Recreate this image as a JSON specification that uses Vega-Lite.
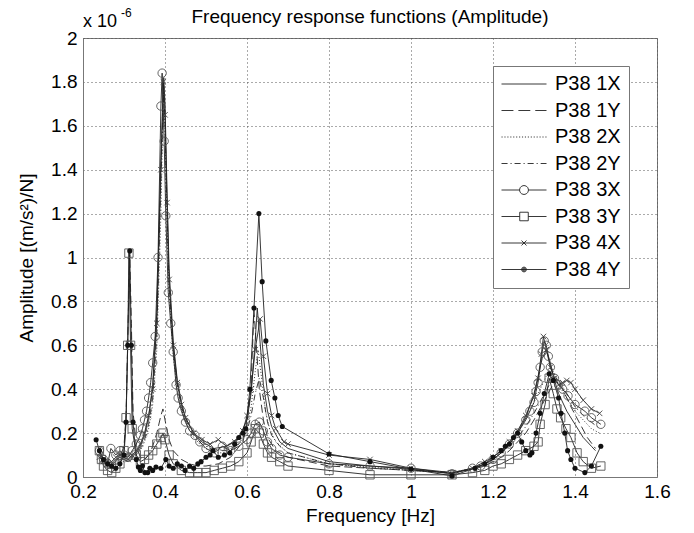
{
  "$schema": "https://vega.github.io/schema/vega-lite/v6.json",
  "width": 574,
  "height": 439,
  "autosize": {"type": "none"},
  "padding": {"left": 83, "top": 38, "right": 37, "bottom": 56},
  "background": "white",
  "title": {"text": "Frequency response functions (Amplitude)", "fontSize": 19, "fontWeight": "normal", "font": "Liberation Sans", "color": "#000", "offset": -20, "anchor": "middle"},
  "config": {
    "view": {"stroke": "#777", "strokeWidth": 1},
    "font": "Liberation Sans",
    "axis": {"labelFont": "Liberation Sans", "titleFont": "Liberation Sans", "labelFontSize": 19, "titleFontSize": 19, "titleFontWeight": "normal", "labelColor": "#000", "titleColor": "#000", "grid": true, "gridDash": [1, 3], "gridColor": "#555", "gridOpacity": 1, "ticks": false, "domainColor": "#777", "labelFlush": false}
  },
  "data": {"values": [
    {"s":"P38 1X","f":0.24,"a":0.10},{"s":"P38 1X","f":0.25,"a":0.07},{"s":"P38 1X","f":0.26,"a":0.05},{"s":"P38 1X","f":0.27,"a":0.06},{"s":"P38 1X","f":0.28,"a":0.08},{"s":"P38 1X","f":0.29,"a":0.09},{"s":"P38 1X","f":0.30,"a":0.08},{"s":"P38 1X","f":0.31,"a":0.07},{"s":"P38 1X","f":0.32,"a":0.09},{"s":"P38 1X","f":0.33,"a":0.11},{"s":"P38 1X","f":0.34,"a":0.14},{"s":"P38 1X","f":0.35,"a":0.19},{"s":"P38 1X","f":0.36,"a":0.27},{"s":"P38 1X","f":0.37,"a":0.42},{"s":"P38 1X","f":0.38,"a":0.75},{"s":"P38 1X","f":0.39,"a":1.45},{"s":"P38 1X","f":0.397,"a":1.82},{"s":"P38 1X","f":0.40,"a":1.70},{"s":"P38 1X","f":0.405,"a":1.30},{"s":"P38 1X","f":0.41,"a":0.95},{"s":"P38 1X","f":0.42,"a":0.62},{"s":"P38 1X","f":0.43,"a":0.44},{"s":"P38 1X","f":0.44,"a":0.34},{"s":"P38 1X","f":0.45,"a":0.27},{"s":"P38 1X","f":0.47,"a":0.20},{"s":"P38 1X","f":0.49,"a":0.16},{"s":"P38 1X","f":0.52,"a":0.13},{"s":"P38 1X","f":0.55,"a":0.14},{"s":"P38 1X","f":0.58,"a":0.18},{"s":"P38 1X","f":0.60,"a":0.26},{"s":"P38 1X","f":0.61,"a":0.38},{"s":"P38 1X","f":0.62,"a":0.62},{"s":"P38 1X","f":0.625,"a":0.77},{"s":"P38 1X","f":0.63,"a":0.66},{"s":"P38 1X","f":0.64,"a":0.42},{"s":"P38 1X","f":0.65,"a":0.30},{"s":"P38 1X","f":0.66,"a":0.23},{"s":"P38 1X","f":0.68,"a":0.16},{"s":"P38 1X","f":0.70,"a":0.13},{"s":"P38 1X","f":0.80,"a":0.07},{"s":"P38 1X","f":0.90,"a":0.05},{"s":"P38 1X","f":1.0,"a":0.035},{"s":"P38 1X","f":1.1,"a":0.015},{"s":"P38 1X","f":1.15,"a":0.04},{"s":"P38 1X","f":1.18,"a":0.06},{"s":"P38 1X","f":1.20,"a":0.08},{"s":"P38 1X","f":1.22,"a":0.11},{"s":"P38 1X","f":1.24,"a":0.15},{"s":"P38 1X","f":1.26,"a":0.20},{"s":"P38 1X","f":1.28,"a":0.27},{"s":"P38 1X","f":1.30,"a":0.38},{"s":"P38 1X","f":1.31,"a":0.46},{"s":"P38 1X","f":1.32,"a":0.54},{"s":"P38 1X","f":1.33,"a":0.58},{"s":"P38 1X","f":1.34,"a":0.52},{"s":"P38 1X","f":1.35,"a":0.44},{"s":"P38 1X","f":1.36,"a":0.38},{"s":"P38 1X","f":1.38,"a":0.30},{"s":"P38 1X","f":1.40,"a":0.24},{"s":"P38 1X","f":1.42,"a":0.18},{"s":"P38 1X","f":1.44,"a":0.14},{"s":"P38 1X","f":1.45,"a":0.12},

    {"s":"P38 1Y","f":0.24,"a":0.14},{"s":"P38 1Y","f":0.25,"a":0.10},{"s":"P38 1Y","f":0.26,"a":0.07},{"s":"P38 1Y","f":0.27,"a":0.06},{"s":"P38 1Y","f":0.28,"a":0.07},{"s":"P38 1Y","f":0.29,"a":0.09},{"s":"P38 1Y","f":0.30,"a":0.14},{"s":"P38 1Y","f":0.305,"a":0.28},{"s":"P38 1Y","f":0.31,"a":0.70},{"s":"P38 1Y","f":0.314,"a":1.01},{"s":"P38 1Y","f":0.318,"a":0.70},{"s":"P38 1Y","f":0.322,"a":0.30},{"s":"P38 1Y","f":0.33,"a":0.14},{"s":"P38 1Y","f":0.34,"a":0.09},{"s":"P38 1Y","f":0.35,"a":0.08},{"s":"P38 1Y","f":0.36,"a":0.10},{"s":"P38 1Y","f":0.37,"a":0.14},{"s":"P38 1Y","f":0.38,"a":0.20},{"s":"P38 1Y","f":0.39,"a":0.28},{"s":"P38 1Y","f":0.395,"a":0.31},{"s":"P38 1Y","f":0.40,"a":0.26},{"s":"P38 1Y","f":0.41,"a":0.17},{"s":"P38 1Y","f":0.42,"a":0.12},{"s":"P38 1Y","f":0.44,"a":0.08},{"s":"P38 1Y","f":0.46,"a":0.06},{"s":"P38 1Y","f":0.48,"a":0.05},{"s":"P38 1Y","f":0.50,"a":0.05},{"s":"P38 1Y","f":0.53,"a":0.06},{"s":"P38 1Y","f":0.56,"a":0.09},{"s":"P38 1Y","f":0.59,"a":0.16},{"s":"P38 1Y","f":0.60,"a":0.24},{"s":"P38 1Y","f":0.61,"a":0.42},{"s":"P38 1Y","f":0.617,"a":0.76},{"s":"P38 1Y","f":0.622,"a":0.62},{"s":"P38 1Y","f":0.63,"a":0.40},{"s":"P38 1Y","f":0.64,"a":0.26},{"s":"P38 1Y","f":0.65,"a":0.18},{"s":"P38 1Y","f":0.67,"a":0.12},{"s":"P38 1Y","f":0.70,"a":0.09},{"s":"P38 1Y","f":0.80,"a":0.05},{"s":"P38 1Y","f":0.90,"a":0.04},{"s":"P38 1Y","f":1.0,"a":0.03},{"s":"P38 1Y","f":1.1,"a":0.02},{"s":"P38 1Y","f":1.15,"a":0.035},{"s":"P38 1Y","f":1.18,"a":0.05},{"s":"P38 1Y","f":1.20,"a":0.07},{"s":"P38 1Y","f":1.22,"a":0.09},{"s":"P38 1Y","f":1.24,"a":0.12},{"s":"P38 1Y","f":1.26,"a":0.16},{"s":"P38 1Y","f":1.28,"a":0.20},{"s":"P38 1Y","f":1.30,"a":0.26},{"s":"P38 1Y","f":1.32,"a":0.33},{"s":"P38 1Y","f":1.34,"a":0.40},{"s":"P38 1Y","f":1.355,"a":0.45},{"s":"P38 1Y","f":1.37,"a":0.40},{"s":"P38 1Y","f":1.39,"a":0.32},{"s":"P38 1Y","f":1.41,"a":0.25},{"s":"P38 1Y","f":1.43,"a":0.18},{"s":"P38 1Y","f":1.45,"a":0.13},

    {"s":"P38 2X","f":0.24,"a":0.08},{"s":"P38 2X","f":0.25,"a":0.06},{"s":"P38 2X","f":0.26,"a":0.05},{"s":"P38 2X","f":0.27,"a":0.05},{"s":"P38 2X","f":0.28,"a":0.06},{"s":"P38 2X","f":0.29,"a":0.07},{"s":"P38 2X","f":0.30,"a":0.07},{"s":"P38 2X","f":0.31,"a":0.08},{"s":"P38 2X","f":0.32,"a":0.08},{"s":"P38 2X","f":0.33,"a":0.10},{"s":"P38 2X","f":0.34,"a":0.12},{"s":"P38 2X","f":0.35,"a":0.16},{"s":"P38 2X","f":0.36,"a":0.22},{"s":"P38 2X","f":0.37,"a":0.33},{"s":"P38 2X","f":0.38,"a":0.58},{"s":"P38 2X","f":0.39,"a":1.20},{"s":"P38 2X","f":0.396,"a":1.75},{"s":"P38 2X","f":0.40,"a":1.60},{"s":"P38 2X","f":0.405,"a":1.15},{"s":"P38 2X","f":0.41,"a":0.85},{"s":"P38 2X","f":0.42,"a":0.55},{"s":"P38 2X","f":0.43,"a":0.40},{"s":"P38 2X","f":0.44,"a":0.31},{"s":"P38 2X","f":0.45,"a":0.25},{"s":"P38 2X","f":0.47,"a":0.18},{"s":"P38 2X","f":0.49,"a":0.14},{"s":"P38 2X","f":0.52,"a":0.11},{"s":"P38 2X","f":0.55,"a":0.11},{"s":"P38 2X","f":0.58,"a":0.15},{"s":"P38 2X","f":0.60,"a":0.22},{"s":"P38 2X","f":0.61,"a":0.32},{"s":"P38 2X","f":0.62,"a":0.48},{"s":"P38 2X","f":0.627,"a":0.58},{"s":"P38 2X","f":0.635,"a":0.46},{"s":"P38 2X","f":0.645,"a":0.30},{"s":"P38 2X","f":0.655,"a":0.22},{"s":"P38 2X","f":0.67,"a":0.16},{"s":"P38 2X","f":0.70,"a":0.11},{"s":"P38 2X","f":0.80,"a":0.06},{"s":"P38 2X","f":0.90,"a":0.045},{"s":"P38 2X","f":1.0,"a":0.03},{"s":"P38 2X","f":1.1,"a":0.02},{"s":"P38 2X","f":1.15,"a":0.04},{"s":"P38 2X","f":1.18,"a":0.07},{"s":"P38 2X","f":1.20,"a":0.09},{"s":"P38 2X","f":1.22,"a":0.12},{"s":"P38 2X","f":1.24,"a":0.16},{"s":"P38 2X","f":1.26,"a":0.21},{"s":"P38 2X","f":1.28,"a":0.27},{"s":"P38 2X","f":1.30,"a":0.34},{"s":"P38 2X","f":1.32,"a":0.42},{"s":"P38 2X","f":1.34,"a":0.50},{"s":"P38 2X","f":1.35,"a":0.47},{"s":"P38 2X","f":1.36,"a":0.42},{"s":"P38 2X","f":1.38,"a":0.36},{"s":"P38 2X","f":1.40,"a":0.30},{"s":"P38 2X","f":1.42,"a":0.26},{"s":"P38 2X","f":1.44,"a":0.22},{"s":"P38 2X","f":1.46,"a":0.20},

    {"s":"P38 2Y","f":0.24,"a":0.11},{"s":"P38 2Y","f":0.25,"a":0.08},{"s":"P38 2Y","f":0.26,"a":0.06},{"s":"P38 2Y","f":0.27,"a":0.05},{"s":"P38 2Y","f":0.28,"a":0.06},{"s":"P38 2Y","f":0.29,"a":0.08},{"s":"P38 2Y","f":0.30,"a":0.09},{"s":"P38 2Y","f":0.31,"a":0.10},{"s":"P38 2Y","f":0.32,"a":0.09},{"s":"P38 2Y","f":0.33,"a":0.10},{"s":"P38 2Y","f":0.34,"a":0.13},{"s":"P38 2Y","f":0.35,"a":0.17},{"s":"P38 2Y","f":0.36,"a":0.24},{"s":"P38 2Y","f":0.37,"a":0.36},{"s":"P38 2Y","f":0.38,"a":0.65},{"s":"P38 2Y","f":0.39,"a":1.35},{"s":"P38 2Y","f":0.397,"a":1.78},{"s":"P38 2Y","f":0.40,"a":1.62},{"s":"P38 2Y","f":0.405,"a":1.20},{"s":"P38 2Y","f":0.41,"a":0.88},{"s":"P38 2Y","f":0.42,"a":0.58},{"s":"P38 2Y","f":0.43,"a":0.42},{"s":"P38 2Y","f":0.44,"a":0.32},{"s":"P38 2Y","f":0.45,"a":0.26},{"s":"P38 2Y","f":0.47,"a":0.19},{"s":"P38 2Y","f":0.49,"a":0.15},{"s":"P38 2Y","f":0.52,"a":0.12},{"s":"P38 2Y","f":0.55,"a":0.12},{"s":"P38 2Y","f":0.58,"a":0.15},{"s":"P38 2Y","f":0.60,"a":0.21},{"s":"P38 2Y","f":0.61,"a":0.28},{"s":"P38 2Y","f":0.62,"a":0.38},{"s":"P38 2Y","f":0.63,"a":0.45},{"s":"P38 2Y","f":0.64,"a":0.36},{"s":"P38 2Y","f":0.65,"a":0.25},{"s":"P38 2Y","f":0.66,"a":0.19},{"s":"P38 2Y","f":0.68,"a":0.14},{"s":"P38 2Y","f":0.70,"a":0.11},{"s":"P38 2Y","f":0.80,"a":0.06},{"s":"P38 2Y","f":0.90,"a":0.04},{"s":"P38 2Y","f":1.0,"a":0.03},{"s":"P38 2Y","f":1.1,"a":0.02},{"s":"P38 2Y","f":1.15,"a":0.035},{"s":"P38 2Y","f":1.18,"a":0.06},{"s":"P38 2Y","f":1.20,"a":0.08},{"s":"P38 2Y","f":1.22,"a":0.11},{"s":"P38 2Y","f":1.24,"a":0.14},{"s":"P38 2Y","f":1.26,"a":0.18},{"s":"P38 2Y","f":1.28,"a":0.23},{"s":"P38 2Y","f":1.30,"a":0.29},{"s":"P38 2Y","f":1.32,"a":0.36},{"s":"P38 2Y","f":1.34,"a":0.43},{"s":"P38 2Y","f":1.35,"a":0.47},{"s":"P38 2Y","f":1.36,"a":0.44},{"s":"P38 2Y","f":1.38,"a":0.38},{"s":"P38 2Y","f":1.40,"a":0.32},{"s":"P38 2Y","f":1.42,"a":0.28},{"s":"P38 2Y","f":1.44,"a":0.25},{"s":"P38 2Y","f":1.46,"a":0.22},

    {"s":"P38 3X","f":0.24,"a":0.12},{"s":"P38 3X","f":0.25,"a":0.08},{"s":"P38 3X","f":0.26,"a":0.06},{"s":"P38 3X","f":0.268,"a":0.13},{"s":"P38 3X","f":0.28,"a":0.10},{"s":"P38 3X","f":0.29,"a":0.12},{"s":"P38 3X","f":0.30,"a":0.10},{"s":"P38 3X","f":0.31,"a":0.09},{"s":"P38 3X","f":0.32,"a":0.12},{"s":"P38 3X","f":0.33,"a":0.15},{"s":"P38 3X","f":0.34,"a":0.19},{"s":"P38 3X","f":0.345,"a":0.22},{"s":"P38 3X","f":0.35,"a":0.26},{"s":"P38 3X","f":0.355,"a":0.30},{"s":"P38 3X","f":0.36,"a":0.36},{"s":"P38 3X","f":0.365,"a":0.43},{"s":"P38 3X","f":0.37,"a":0.52},{"s":"P38 3X","f":0.376,"a":0.64},{"s":"P38 3X","f":0.383,"a":1.00},{"s":"P38 3X","f":0.39,"a":1.69},{"s":"P38 3X","f":0.393,"a":1.84},{"s":"P38 3X","f":0.398,"a":1.53},{"s":"P38 3X","f":0.402,"a":1.19},{"s":"P38 3X","f":0.408,"a":0.84},{"s":"P38 3X","f":0.414,"a":0.70},{"s":"P38 3X","f":0.42,"a":0.57},{"s":"P38 3X","f":0.427,"a":0.42},{"s":"P38 3X","f":0.432,"a":0.36},{"s":"P38 3X","f":0.44,"a":0.30},{"s":"P38 3X","f":0.45,"a":0.25},{"s":"P38 3X","f":0.46,"a":0.21},{"s":"P38 3X","f":0.473,"a":0.19},{"s":"P38 3X","f":0.485,"a":0.16},{"s":"P38 3X","f":0.50,"a":0.13},{"s":"P38 3X","f":0.52,"a":0.11},{"s":"P38 3X","f":0.54,"a":0.14},{"s":"P38 3X","f":0.56,"a":0.12},{"s":"P38 3X","f":0.58,"a":0.14},{"s":"P38 3X","f":0.60,"a":0.17},{"s":"P38 3X","f":0.61,"a":0.20},{"s":"P38 3X","f":0.62,"a":0.24},{"s":"P38 3X","f":0.63,"a":0.25},{"s":"P38 3X","f":0.64,"a":0.21},{"s":"P38 3X","f":0.65,"a":0.16},{"s":"P38 3X","f":0.66,"a":0.13},{"s":"P38 3X","f":0.68,"a":0.10},{"s":"P38 3X","f":0.70,"a":0.09},{"s":"P38 3X","f":0.80,"a":0.06},{"s":"P38 3X","f":0.90,"a":0.05},{"s":"P38 3X","f":1.0,"a":0.04},{"s":"P38 3X","f":1.1,"a":0.015},{"s":"P38 3X","f":1.15,"a":0.04},{"s":"P38 3X","f":1.17,"a":0.05},{"s":"P38 3X","f":1.20,"a":0.08},{"s":"P38 3X","f":1.22,"a":0.11},{"s":"P38 3X","f":1.24,"a":0.15},{"s":"P38 3X","f":1.26,"a":0.20},{"s":"P38 3X","f":1.28,"a":0.26},{"s":"P38 3X","f":1.29,"a":0.30},{"s":"P38 3X","f":1.30,"a":0.34},{"s":"P38 3X","f":1.305,"a":0.39},{"s":"P38 3X","f":1.31,"a":0.43},{"s":"P38 3X","f":1.315,"a":0.50},{"s":"P38 3X","f":1.32,"a":0.57},{"s":"P38 3X","f":1.325,"a":0.62},{"s":"P38 3X","f":1.33,"a":0.60},{"s":"P38 3X","f":1.335,"a":0.55},{"s":"P38 3X","f":1.34,"a":0.50},{"s":"P38 3X","f":1.35,"a":0.45},{"s":"P38 3X","f":1.36,"a":0.42},{"s":"P38 3X","f":1.37,"a":0.40},{"s":"P38 3X","f":1.383,"a":0.37},{"s":"P38 3X","f":1.40,"a":0.33},{"s":"P38 3X","f":1.424,"a":0.30},{"s":"P38 3X","f":1.44,"a":0.27},{"s":"P38 3X","f":1.463,"a":0.24},

    {"s":"P38 3Y","f":0.24,"a":0.12},{"s":"P38 3Y","f":0.245,"a":0.08},{"s":"P38 3Y","f":0.25,"a":0.05},{"s":"P38 3Y","f":0.26,"a":0.03},{"s":"P38 3Y","f":0.27,"a":0.02},{"s":"P38 3Y","f":0.28,"a":0.04},{"s":"P38 3Y","f":0.29,"a":0.06},{"s":"P38 3Y","f":0.30,"a":0.12},{"s":"P38 3Y","f":0.305,"a":0.27},{"s":"P38 3Y","f":0.309,"a":0.60},{"s":"P38 3Y","f":0.312,"a":1.02},{"s":"P38 3Y","f":0.316,"a":0.60},{"s":"P38 3Y","f":0.32,"a":0.22},{"s":"P38 3Y","f":0.33,"a":0.10},{"s":"P38 3Y","f":0.34,"a":0.07},{"s":"P38 3Y","f":0.35,"a":0.08},{"s":"P38 3Y","f":0.36,"a":0.10},{"s":"P38 3Y","f":0.37,"a":0.12},{"s":"P38 3Y","f":0.38,"a":0.15},{"s":"P38 3Y","f":0.39,"a":0.18},{"s":"P38 3Y","f":0.395,"a":0.20},{"s":"P38 3Y","f":0.40,"a":0.17},{"s":"P38 3Y","f":0.41,"a":0.10},{"s":"P38 3Y","f":0.42,"a":0.06},{"s":"P38 3Y","f":0.44,"a":0.03},{"s":"P38 3Y","f":0.46,"a":0.02},{"s":"P38 3Y","f":0.48,"a":0.02},{"s":"P38 3Y","f":0.50,"a":0.02},{"s":"P38 3Y","f":0.52,"a":0.03},{"s":"P38 3Y","f":0.54,"a":0.04},{"s":"P38 3Y","f":0.56,"a":0.05},{"s":"P38 3Y","f":0.58,"a":0.07},{"s":"P38 3Y","f":0.60,"a":0.11},{"s":"P38 3Y","f":0.61,"a":0.16},{"s":"P38 3Y","f":0.62,"a":0.22},{"s":"P38 3Y","f":0.63,"a":0.20},{"s":"P38 3Y","f":0.64,"a":0.15},{"s":"P38 3Y","f":0.65,"a":0.11},{"s":"P38 3Y","f":0.66,"a":0.09},{"s":"P38 3Y","f":0.68,"a":0.07},{"s":"P38 3Y","f":0.70,"a":0.05},{"s":"P38 3Y","f":0.80,"a":0.03},{"s":"P38 3Y","f":0.90,"a":0.01},{"s":"P38 3Y","f":1.0,"a":0.01},{"s":"P38 3Y","f":1.1,"a":0.01},{"s":"P38 3Y","f":1.15,"a":0.02},{"s":"P38 3Y","f":1.18,"a":0.03},{"s":"P38 3Y","f":1.20,"a":0.05},{"s":"P38 3Y","f":1.22,"a":0.06},{"s":"P38 3Y","f":1.24,"a":0.08},{"s":"P38 3Y","f":1.26,"a":0.10},{"s":"P38 3Y","f":1.28,"a":0.12},{"s":"P38 3Y","f":1.30,"a":0.14},{"s":"P38 3Y","f":1.31,"a":0.16},{"s":"P38 3Y","f":1.315,"a":0.24},{"s":"P38 3Y","f":1.327,"a":0.33},{"s":"P38 3Y","f":1.337,"a":0.45},{"s":"P38 3Y","f":1.347,"a":0.38},{"s":"P38 3Y","f":1.356,"a":0.31},{"s":"P38 3Y","f":1.365,"a":0.27},{"s":"P38 3Y","f":1.378,"a":0.22},{"s":"P38 3Y","f":1.39,"a":0.18},{"s":"P38 3Y","f":1.405,"a":0.11},{"s":"P38 3Y","f":1.42,"a":0.07},{"s":"P38 3Y","f":1.44,"a":0.04},{"s":"P38 3Y","f":1.463,"a":0.05},

    {"s":"P38 4X","f":0.24,"a":0.09},{"s":"P38 4X","f":0.25,"a":0.07},{"s":"P38 4X","f":0.26,"a":0.06},{"s":"P38 4X","f":0.27,"a":0.07},{"s":"P38 4X","f":0.28,"a":0.09},{"s":"P38 4X","f":0.29,"a":0.10},{"s":"P38 4X","f":0.30,"a":0.09},{"s":"P38 4X","f":0.31,"a":0.08},{"s":"P38 4X","f":0.32,"a":0.10},{"s":"P38 4X","f":0.33,"a":0.12},{"s":"P38 4X","f":0.34,"a":0.15},{"s":"P38 4X","f":0.35,"a":0.20},{"s":"P38 4X","f":0.36,"a":0.28},{"s":"P38 4X","f":0.37,"a":0.40},{"s":"P38 4X","f":0.38,"a":0.70},{"s":"P38 4X","f":0.39,"a":1.40},{"s":"P38 4X","f":0.396,"a":1.80},{"s":"P38 4X","f":0.40,"a":1.65},{"s":"P38 4X","f":0.405,"a":1.25},{"s":"P38 4X","f":0.41,"a":0.90},{"s":"P38 4X","f":0.42,"a":0.60},{"s":"P38 4X","f":0.43,"a":0.43},{"s":"P38 4X","f":0.44,"a":0.33},{"s":"P38 4X","f":0.45,"a":0.27},{"s":"P38 4X","f":0.47,"a":0.20},{"s":"P38 4X","f":0.49,"a":0.17},{"s":"P38 4X","f":0.51,"a":0.15},{"s":"P38 4X","f":0.53,"a":0.17},{"s":"P38 4X","f":0.55,"a":0.14},{"s":"P38 4X","f":0.57,"a":0.16},{"s":"P38 4X","f":0.59,"a":0.21},{"s":"P38 4X","f":0.60,"a":0.28},{"s":"P38 4X","f":0.61,"a":0.40},{"s":"P38 4X","f":0.62,"a":0.58},{"s":"P38 4X","f":0.632,"a":0.72},{"s":"P38 4X","f":0.64,"a":0.55},{"s":"P38 4X","f":0.65,"a":0.38},{"s":"P38 4X","f":0.66,"a":0.28},{"s":"P38 4X","f":0.67,"a":0.22},{"s":"P38 4X","f":0.69,"a":0.16},{"s":"P38 4X","f":0.70,"a":0.15},{"s":"P38 4X","f":0.80,"a":0.10},{"s":"P38 4X","f":0.90,"a":0.08},{"s":"P38 4X","f":1.0,"a":0.04},{"s":"P38 4X","f":1.1,"a":0.02},{"s":"P38 4X","f":1.15,"a":0.04},{"s":"P38 4X","f":1.18,"a":0.07},{"s":"P38 4X","f":1.20,"a":0.09},{"s":"P38 4X","f":1.22,"a":0.12},{"s":"P38 4X","f":1.24,"a":0.16},{"s":"P38 4X","f":1.26,"a":0.21},{"s":"P38 4X","f":1.28,"a":0.28},{"s":"P38 4X","f":1.30,"a":0.37},{"s":"P38 4X","f":1.31,"a":0.45},{"s":"P38 4X","f":1.318,"a":0.56},{"s":"P38 4X","f":1.323,"a":0.64},{"s":"P38 4X","f":1.33,"a":0.58},{"s":"P38 4X","f":1.34,"a":0.50},{"s":"P38 4X","f":1.35,"a":0.45},{"s":"P38 4X","f":1.36,"a":0.42},{"s":"P38 4X","f":1.37,"a":0.43},{"s":"P38 4X","f":1.38,"a":0.44},{"s":"P38 4X","f":1.39,"a":0.43},{"s":"P38 4X","f":1.40,"a":0.40},{"s":"P38 4X","f":1.42,"a":0.35},{"s":"P38 4X","f":1.44,"a":0.31},{"s":"P38 4X","f":1.46,"a":0.29},

    {"s":"P38 4Y","f":0.232,"a":0.17},{"s":"P38 4Y","f":0.24,"a":0.12},{"s":"P38 4Y","f":0.25,"a":0.08},{"s":"P38 4Y","f":0.26,"a":0.06},{"s":"P38 4Y","f":0.27,"a":0.05},{"s":"P38 4Y","f":0.28,"a":0.04},{"s":"P38 4Y","f":0.29,"a":0.06},{"s":"P38 4Y","f":0.30,"a":0.10},{"s":"P38 4Y","f":0.305,"a":0.25},{"s":"P38 4Y","f":0.309,"a":0.60},{"s":"P38 4Y","f":0.314,"a":1.03},{"s":"P38 4Y","f":0.318,"a":0.60},{"s":"P38 4Y","f":0.322,"a":0.25},{"s":"P38 4Y","f":0.33,"a":0.08},{"s":"P38 4Y","f":0.335,"a":0.045},{"s":"P38 4Y","f":0.34,"a":0.03},{"s":"P38 4Y","f":0.345,"a":0.05},{"s":"P38 4Y","f":0.351,"a":0.02},{"s":"P38 4Y","f":0.358,"a":0.02},{"s":"P38 4Y","f":0.363,"a":0.04},{"s":"P38 4Y","f":0.37,"a":0.03},{"s":"P38 4Y","f":0.378,"a":0.045},{"s":"P38 4Y","f":0.39,"a":0.04},{"s":"P38 4Y","f":0.402,"a":0.08},{"s":"P38 4Y","f":0.41,"a":0.05},{"s":"P38 4Y","f":0.42,"a":0.04},{"s":"P38 4Y","f":0.43,"a":0.06},{"s":"P38 4Y","f":0.44,"a":0.05},{"s":"P38 4Y","f":0.449,"a":0.03},{"s":"P38 4Y","f":0.46,"a":0.05},{"s":"P38 4Y","f":0.47,"a":0.04},{"s":"P38 4Y","f":0.48,"a":0.06},{"s":"P38 4Y","f":0.488,"a":0.07},{"s":"P38 4Y","f":0.50,"a":0.09},{"s":"P38 4Y","f":0.51,"a":0.10},{"s":"P38 4Y","f":0.517,"a":0.12},{"s":"P38 4Y","f":0.53,"a":0.09},{"s":"P38 4Y","f":0.545,"a":0.10},{"s":"P38 4Y","f":0.558,"a":0.11},{"s":"P38 4Y","f":0.57,"a":0.15},{"s":"P38 4Y","f":0.58,"a":0.18},{"s":"P38 4Y","f":0.59,"a":0.20},{"s":"P38 4Y","f":0.597,"a":0.22},{"s":"P38 4Y","f":0.607,"a":0.40},{"s":"P38 4Y","f":0.617,"a":0.77},{"s":"P38 4Y","f":0.629,"a":1.20},{"s":"P38 4Y","f":0.637,"a":0.89},{"s":"P38 4Y","f":0.646,"a":0.62},{"s":"P38 4Y","f":0.659,"a":0.44},{"s":"P38 4Y","f":0.668,"a":0.36},{"s":"P38 4Y","f":0.676,"a":0.28},{"s":"P38 4Y","f":0.686,"a":0.23},{"s":"P38 4Y","f":0.80,"a":0.105},{"s":"P38 4Y","f":0.90,"a":0.07},{"s":"P38 4Y","f":1.0,"a":0.036},{"s":"P38 4Y","f":1.10,"a":0.005},{"s":"P38 4Y","f":1.156,"a":0.04},{"s":"P38 4Y","f":1.18,"a":0.06},{"s":"P38 4Y","f":1.20,"a":0.09},{"s":"P38 4Y","f":1.22,"a":0.12},{"s":"P38 4Y","f":1.23,"a":0.14},{"s":"P38 4Y","f":1.24,"a":0.15},{"s":"P38 4Y","f":1.25,"a":0.18},{"s":"P38 4Y","f":1.26,"a":0.20},{"s":"P38 4Y","f":1.27,"a":0.16},{"s":"P38 4Y","f":1.28,"a":0.12},{"s":"P38 4Y","f":1.29,"a":0.10},{"s":"P38 4Y","f":1.295,"a":0.11},{"s":"P38 4Y","f":1.305,"a":0.20},{"s":"P38 4Y","f":1.315,"a":0.29},{"s":"P38 4Y","f":1.325,"a":0.38},{"s":"P38 4Y","f":1.337,"a":0.47},{"s":"P38 4Y","f":1.347,"a":0.44},{"s":"P38 4Y","f":1.36,"a":0.36},{"s":"P38 4Y","f":1.366,"a":0.29},{"s":"P38 4Y","f":1.375,"a":0.20},{"s":"P38 4Y","f":1.382,"a":0.12},{"s":"P38 4Y","f":1.39,"a":0.08},{"s":"P38 4Y","f":1.40,"a":0.04},{"s":"P38 4Y","f":1.424,"a":0.02},{"s":"P38 4Y","f":1.44,"a":0.05},{"s":"P38 4Y","f":1.463,"a":0.14}
  ]},
  "encoding": {
    "x": {"field": "f", "type": "quantitative", "scale": {"domain": [0.2, 1.6], "nice": false, "zero": false}, "axis": {"values": [0.2, 0.4, 0.6, 0.8, 1, 1.2, 1.4, 1.6], "format": "~g", "title": "Frequency [Hz]", "labelPadding": 5, "titlePadding": 5}},
    "y": {"field": "a", "type": "quantitative", "scale": {"domain": [0, 2], "nice": false, "zero": false}, "axis": {"values": [0, 0.2, 0.4, 0.6, 0.8, 1, 1.2, 1.4, 1.6, 1.8, 2], "format": "~g", "title": "Amplitude [(m/s²)/N]", "labelPadding": 6, "titlePadding": 14}}
  },
  "layer": [
    {
      "transform": [{"filter": {"field": "s", "oneOf": ["P38 1X", "P38 3X", "P38 3Y", "P38 4X", "P38 4Y"]}}],
      "mark": {"type": "line", "color": "#222", "strokeWidth": 0.9},
      "encoding": {"detail": {"field": "s", "type": "nominal"}}
    },
    {
      "transform": [{"filter": {"field": "s", "equal": "P38 1Y"}}],
      "mark": {"type": "line", "color": "#222", "strokeWidth": 0.9, "strokeDash": [8, 4]},
      "encoding": {}
    },
    {
      "transform": [{"filter": {"field": "s", "equal": "P38 2X"}}],
      "mark": {"type": "line", "color": "#222", "strokeWidth": 0.9, "strokeDash": [1, 2]},
      "encoding": {}
    },
    {
      "transform": [{"filter": {"field": "s", "equal": "P38 2Y"}}],
      "mark": {"type": "line", "color": "#222", "strokeWidth": 0.9, "strokeDash": [6, 3, 1, 3]},
      "encoding": {}
    },
    {
      "transform": [{"filter": {"field": "s", "equal": "P38 3X"}}],
      "mark": {"type": "point", "shape": "circle", "filled": false, "size": 70, "color": "#555", "strokeWidth": 0.9, "opacity": 1}
    },
    {
      "transform": [{"filter": {"field": "s", "equal": "P38 3Y"}}],
      "mark": {"type": "point", "shape": "square", "filled": false, "size": 70, "color": "#555", "strokeWidth": 0.9, "opacity": 1}
    },
    {
      "transform": [{"filter": {"field": "s", "equal": "P38 4X"}}],
      "mark": {"type": "point", "shape": "M-1,-1L1,1M-1,1L1,-1", "filled": false, "size": 30, "color": "#444", "strokeWidth": 0.9, "opacity": 1}
    },
    {
      "transform": [{"filter": {"field": "s", "equal": "P38 4Y"}}],
      "mark": {"type": "point", "shape": "circle", "filled": true, "size": 26, "color": "#111", "opacity": 1}
    },
    {
      "data": {"values": [{"f": 0.2, "a": 2, "label": "x 10", "sup": "-6"}]},
      "mark": {"type": "text", "align": "left", "baseline": "alphabetic", "fontSize": 18, "font": "Liberation Sans", "color": "#000", "dy": -11},
      "encoding": {"text": {"field": "label", "type": "nominal"}}
    },
    {
      "data": {"values": [{"f": 0.2, "a": 2, "label": "x 10", "sup": "-6"}]},
      "mark": {"type": "text", "align": "left", "baseline": "alphabetic", "fontSize": 12, "font": "Liberation Sans", "color": "#000", "dx": 38, "dy": -21},
      "encoding": {"text": {"field": "sup", "type": "nominal"}}
    },
    {
      "mark": {"type": "point", "filled": false, "size": 4, "color": "#222", "strokeWidth": 0.9, "opacity": 0},
      "encoding": {
        "shape": {
          "field": "s", "type": "nominal",
          "scale": {
            "domain": ["P38 1X", "P38 1Y", "P38 2X", "P38 2Y", "P38 3X", "P38 3Y", "P38 4X", "P38 4Y"],
            "range": [
              "M-1,0L1,0",
              "M-1,0L-0.47,0M-0.25,0L0.28,0M0.5,0L1,0",
              "M-1,0L-0.95,0M-0.87,0L-0.82,0M-0.74,0L-0.69,0M-0.61,0L-0.56,0M-0.48,0L-0.43,0M-0.35,0L-0.3,0M-0.22,0L-0.17,0M-0.09,0L-0.04,0M0.04,0L0.09,0M0.17,0L0.22,0M0.3,0L0.35,0M0.43,0L0.48,0M0.56,0L0.61,0M0.69,0L0.74,0M0.82,0L0.87,0M0.95,0L1,0",
              "M-1,0L-0.73,0M-0.6,0L-0.55,0M-0.42,0L-0.15,0M-0.02,0L0.03,0M0.16,0L0.43,0M0.56,0L0.61,0M0.74,0L1,0",
              "M-1,0L-0.2,0M0.2,0L1,0M0.2,0L0.173,0.1L0.1,0.173L0,0.2L-0.1,0.173L-0.173,0.1L-0.2,0L-0.173,-0.1L-0.1,-0.173L0,-0.2L0.1,-0.173L0.173,-0.1Z",
              "M-1,0L-0.19,0M0.19,0L1,0M-0.19,-0.19L0.19,-0.19L0.19,0.19L-0.19,0.19Z",
              "M-1,0L1,0M-0.11,-0.11L0.11,0.11M-0.11,0.11L0.11,-0.11",
              "M-1,0L1,0M0.11,0L0.078,0.078L0,0.11L-0.078,0.078L-0.11,0L-0.078,-0.078L0,-0.11L0.078,-0.078ZM0.07,0L0.05,0.05L0,0.07L-0.05,0.05L-0.07,0L-0.05,-0.05L0,-0.07L0.05,-0.05ZM0.03,0L0,0.03L-0.03,0L0,-0.03Z"
            ]
          },
          "legend": {
            "title": null, "orient": "none", "legendX": 410, "legendY": 28, "padding": 8,
            "strokeColor": "#777", "fillColor": "white", "cornerRadius": 0,
            "labelFont": "Liberation Sans", "labelFontSize": 20, "labelColor": "#000", "labelOffset": 8,
            "symbolSize": 2025, "symbolStrokeWidth": 0.9, "symbolStrokeColor": "#222", "symbolFillColor": "transparent", "symbolOpacity": 1,
            "clipHeight": 20, "rowPadding": 6.5,
            "encode": {"symbols": {"update": {"opacity": {"value": 1}, "stroke": {"value": "#222"}, "size": {"value": 2025}}}}
          }
        }
      }
    }
  ]
}
